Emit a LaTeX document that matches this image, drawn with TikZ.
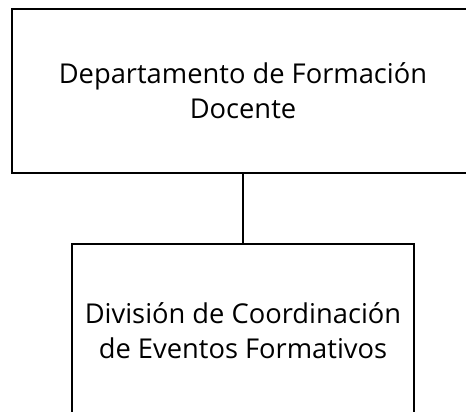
\documentclass[tikz,border=0pt]{standalone}
\usepackage{fontspec}
\setmainfont{Open Sans}
\begin{document}
\begin{tikzpicture}[x=1pt,y=-1pt,
  unitbox/.style={draw=black,line width=2.8pt,rectangle,inner sep=0pt,align=center,
    font=\fontsize{27.3}{35}\selectfont},
  link/.style={draw=black,line width=2.8pt}]
\useasboundingbox (0,0) rectangle (466,412);
\clip (0,0) rectangle (466,412);
\node[unitbox,minimum width=462pt,minimum height=164pt] (top) at (243,91)
  {Departamento de Formación\\Docente};
\node[unitbox,minimum width=342pt,minimum height=174pt] (bot) at (243,331)
  {División de Coordinación\\de Eventos Formativos};
\draw[link] (top.south) -- (bot.north);
\end{tikzpicture}
\end{document}
